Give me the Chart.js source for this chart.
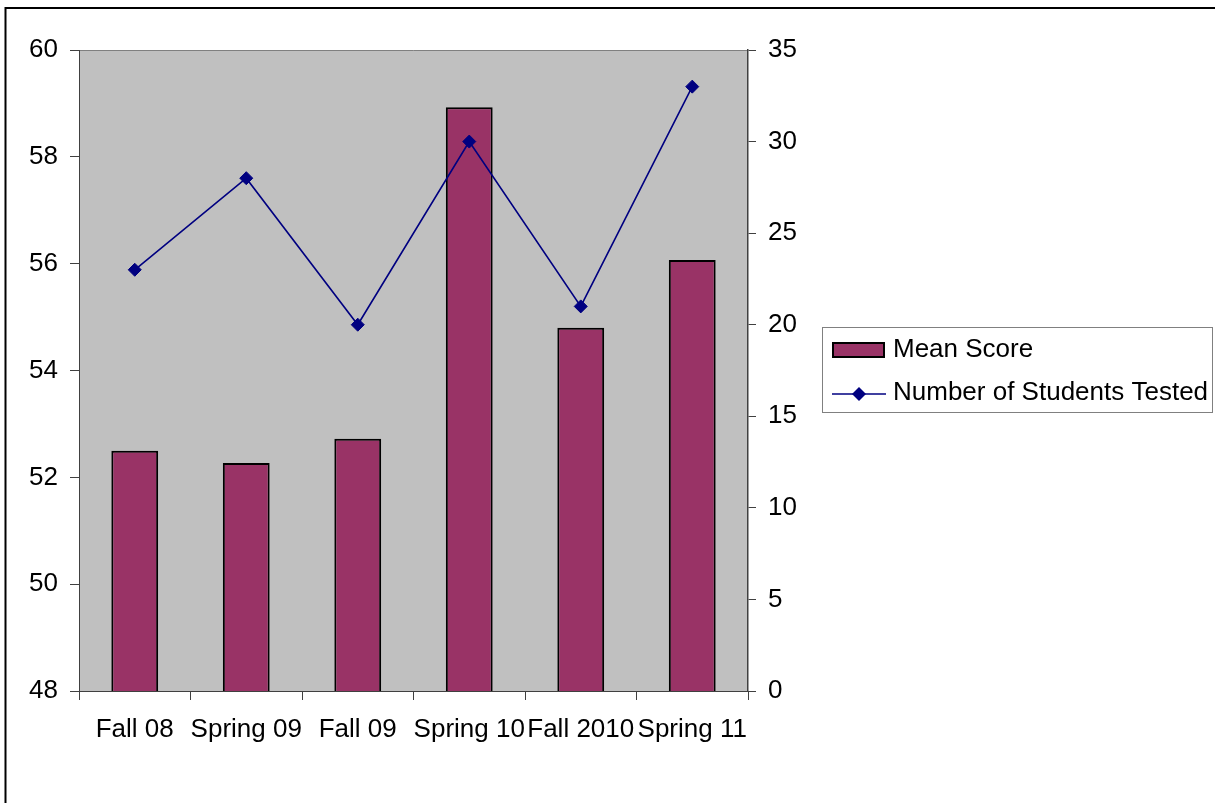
<!DOCTYPE html>
<html>
<head>
<meta charset="utf-8">
<script src="https://cdn.jsdelivr.net/npm/chart.js@4"></script>
<style>
html,body{margin:0;padding:0;background:#fff;}
#wrap{position:relative;width:1215px;height:803px;}
</style>
</head>
<body>
<div id="wrap"><canvas id="c" width="1215" height="803"></canvas></div>
<script>
const categories = ["Fall 08", "Spring 09", "Fall 09", "Spring 10", "Fall 2010", "Spring 11"];
const meanScore = [52.5, 52.27, 52.72, 58.93, 54.8, 56.07];
const studentsTested = [23, 28, 20, 30, 21, 33];
const seriesNames = ["Mean Score", "Number of Students Tested"];

const FONT = "'Liberation Sans', Arial, sans-serif";
const FS = 26;
const AXIS = '#404040';

const framePlugin = {
  id: 'frame',
  beforeDraw(chart) {
    const {ctx, chartArea: a} = chart;
    ctx.save();
    ctx.fillStyle = '#fff';
    ctx.fillRect(0, 0, chart.width, chart.height);
    ctx.fillStyle = '#C0C0C0';
    ctx.fillRect(a.left, a.top, a.right - a.left, a.bottom - a.top);
    ctx.strokeStyle = '#808080';
    ctx.lineWidth = 1;
    ctx.beginPath();
    ctx.moveTo(a.left, a.top + 0.5);
    ctx.lineTo(a.right, a.top + 0.5);
    ctx.stroke();
    ctx.strokeStyle = '#000';
    ctx.lineWidth = 2;
    ctx.beginPath();
    ctx.moveTo(5.5, chart.height + 5);
    ctx.lineTo(5.5, 8);
    ctx.lineTo(chart.width + 5, 8);
    ctx.stroke();
    ctx.restore();
  },
  afterDraw(chart) {
    const ctx = chart.ctx;
    const dsBar = chart.data.datasets.find(d => d.type === 'bar');
    const dsLine = chart.data.datasets.find(d => d.type === 'line');
    ctx.save();
    ctx.strokeStyle = '#808080';
    ctx.lineWidth = 1;
    ctx.strokeRect(822.5, 327.5, 390, 85);
    ctx.font = FS + 'px ' + FONT;
    ctx.textBaseline = 'middle';
    ctx.fillStyle = dsBar.backgroundColor;
    ctx.fillRect(833, 343, 51, 14);
    ctx.strokeStyle = '#000';
    ctx.lineWidth = 2;
    ctx.strokeRect(833, 343, 51, 14);
    ctx.fillStyle = '#000';
    ctx.fillText(dsBar.label, 893, 350);
    ctx.strokeStyle = dsLine.borderColor;
    ctx.lineWidth = 1.6;
    ctx.beginPath();
    ctx.moveTo(832, 394);
    ctx.lineTo(886, 394);
    ctx.stroke();
    ctx.fillStyle = dsLine.borderColor;
    ctx.beginPath();
    ctx.moveTo(859, 387);
    ctx.lineTo(866, 394);
    ctx.lineTo(859, 401);
    ctx.lineTo(852, 394);
    ctx.closePath();
    ctx.fill();
    ctx.fillStyle = '#000';
    ctx.fillText(dsLine.label, 893, 393);
    ctx.restore();
  }
};

new Chart(document.getElementById('c'), {
  data: {
    labels: categories,
    datasets: [
      {
        type: 'line',
        label: seriesNames[1],
        data: studentsTested,
        yAxisID: 'y1',
        borderColor: '#000080',
        backgroundColor: '#000080',
        borderWidth: 1.6,
        pointStyle: 'rectRot',
        pointRadius: 6.5,
        pointBorderWidth: 1,
        pointBackgroundColor: '#000080',
        pointBorderColor: '#000080',
        tension: 0,
        order: 0
      },
      {
        type: 'bar',
        label: seriesNames[0],
        data: meanScore,
        yAxisID: 'y',
        backgroundColor: '#993366',
        borderColor: '#000',
        borderWidth: 2,
        barPercentage: 0.42,
        categoryPercentage: 1,
        order: 1
      }
    ]
  },
  options: {
    responsive: false,
    animation: false,
    layout: {padding: {left: 0, top: 50, right: 387, bottom: 52}},
    plugins: {legend: {display: false}, tooltip: {enabled: false}},
    scales: {
      x: {
        offset: true,
        grid: {offset: true, drawOnChartArea: false, drawTicks: true, tickLength: 9, color: AXIS, tickColor: AXIS},
        border: {color: AXIS, width: 1},
        ticks: {color: '#000', font: {family: FONT, size: FS}, maxRotation: 0, minRotation: 0, autoSkip: false, padding: 14},
        afterFit(s) { s.height = 60; }
      },
      y: {
        position: 'left',
        min: 48, max: 60,
        grid: {drawOnChartArea: false, drawTicks: true, tickLength: 9, color: AXIS, tickColor: AXIS},
        border: {color: AXIS, width: 1},
        ticks: {stepSize: 2, color: '#000', font: {family: FONT, size: FS}, padding: 12},
        afterFit(s) { s.width = 79; }
      },
      y1: {
        position: 'right',
        min: 0, max: 35,
        grid: {drawOnChartArea: false, drawTicks: true, tickLength: 8, color: AXIS, tickColor: AXIS},
        border: {color: AXIS, width: 1.5},
        ticks: {stepSize: 5, color: '#000', font: {family: FONT, size: FS}, padding: 12},
        afterFit(s) { s.width = 80; }
      }
    }
  },
  plugins: [framePlugin]
});
</script>
</body>
</html>
